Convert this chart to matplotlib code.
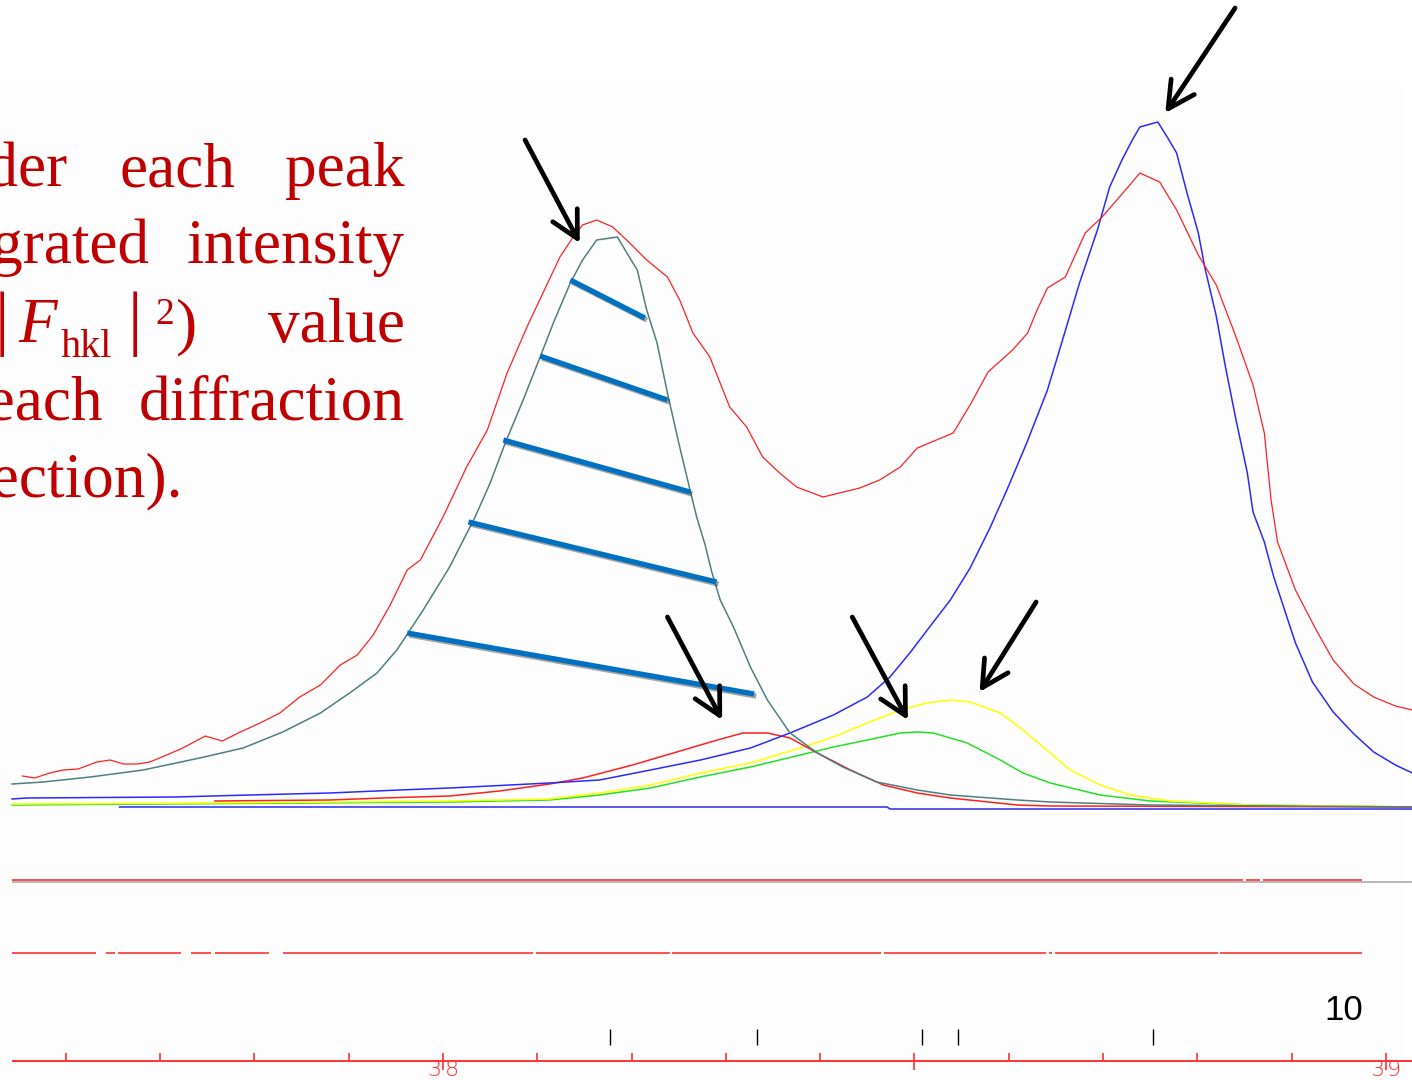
import matplotlib
matplotlib.use('Agg')
import matplotlib.pyplot as plt
import matplotlib.patheffects as pe
import numpy as np

# profile fit: 2theta (deg) vs intensity (arb. units, 0 = background)
obs_x = [37.554, 37.567, 37.583, 37.597, 37.613, 37.633, 37.647, 37.661, 37.676, 37.689,
         37.707, 37.724, 37.748, 37.766, 37.785, 37.806, 37.827, 37.848, 37.870, 37.891,
         37.909, 37.926, 37.944, 37.962, 37.976, 38.000, 38.025, 38.047, 38.068, 38.089,
         38.106, 38.124, 38.138, 38.148, 38.163, 38.180, 38.198, 38.216, 38.238, 38.251,
         38.265, 38.283, 38.304, 38.322, 38.339, 38.357, 38.375, 38.403, 38.442, 38.463,
         38.485, 38.503, 38.541, 38.559, 38.578, 38.604, 38.620, 38.630, 38.641, 38.660,
         38.681, 38.699, 38.721, 38.739, 38.760, 38.778, 38.801, 38.820, 38.841, 38.859,
         38.871, 38.878, 38.885, 38.904, 38.926, 38.944, 38.966, 38.987, 39.010, 39.028]
obs_y = [32, 30, 35, 38, 39, 46, 48, 44, 44, 46,
         53, 60, 72, 67, 76, 85, 95, 111, 123, 143,
         153, 173, 203, 238, 248, 291, 341, 378, 435, 481,
         515, 551, 571, 583, 588, 581, 565, 548, 531, 508,
         475, 451, 401, 381, 351, 335, 321, 311, 320, 328,
         341, 360, 375, 403, 436, 458, 475, 498, 520, 531,
         575, 591, 615, 635, 626, 598, 553, 523, 471, 423,
         375, 309, 266, 218, 178, 148, 124, 111, 102, 98]

# calculated peak 1 (grey)
p1_x = [37.543, 37.576, 37.626, 37.682, 37.742, 37.788, 37.830, 37.870, 37.901, 37.930,
        37.951, 37.963, 37.979, 37.994, 38.007, 38.034, 38.050, 38.066, 38.085, 38.103,
        38.117, 38.135, 38.148, 38.163, 38.185, 38.195, 38.206, 38.216, 38.227, 38.238,
        38.251, 38.262, 38.269, 38.278, 38.285, 38.294, 38.308, 38.326, 38.344, 38.368,
        38.397, 38.424, 38.460, 38.503, 38.538, 38.609, 38.644, 38.750, 39.028]
p1_y = [24, 26, 31, 38, 50, 60, 76, 95, 115, 135,
        158, 175, 198, 221, 241, 291, 325, 365, 408, 451,
        485, 525, 548, 568, 571, 555, 538, 498, 465, 415,
        361, 318, 291, 263, 236, 208, 181, 141, 108, 75,
        55, 41, 26, 18, 13, 8, 6, 3, 1]

# calculated peak 2 (blue)
p2_x = [37.543, 37.559, 37.716, 37.795, 37.880, 37.954, 38.007, 38.113, 38.166, 38.220,
        38.273, 38.326, 38.368, 38.414, 38.450, 38.474, 38.495, 38.516, 38.538, 38.559,
        38.580, 38.598, 38.619, 38.641, 38.657, 38.675, 38.694, 38.707, 38.720, 38.731,
        38.739, 38.758, 38.768, 38.778, 38.789, 38.801, 38.808, 38.820, 38.830, 38.841,
        38.853, 38.859, 38.871, 38.881, 38.904, 38.922, 38.944, 38.966, 38.987, 39.010, 39.028]
p2_y = [9, 10, 11, 13, 15, 18, 20, 25, 28, 38,
        48, 60, 75, 93, 111, 131, 155, 181, 208, 240,
        280, 318, 365, 418, 468, 525, 578, 621, 648, 668,
        681, 686, 671, 655, 615, 575, 540, 492, 440, 388,
        335, 296, 266, 231, 165, 126, 96, 74, 56, 43, 35]

# small peaks: red, yellow, green
p3_x = [37.758, 37.880, 37.936, 38.007, 38.060, 38.113, 38.148, 38.201, 38.255, 38.291,
        38.318, 38.344, 38.368, 38.397, 38.432, 38.467, 38.503, 38.538, 38.609, 38.644, 39.028]
p3_y = [7, 8, 10, 12, 17, 24, 30, 43, 58, 68,
        75, 75, 70, 55, 38, 23, 15, 10, 3, 2, 1]

p4_x = [37.543, 37.758, 38.007, 38.113, 38.166, 38.220, 38.273, 38.326, 38.379, 38.414,
        38.450, 38.485, 38.513, 38.538, 38.559, 38.591, 38.615, 38.644, 38.665, 38.697,
        38.729, 38.771, 38.856, 39.028]
p4_y = [4, 5, 7, 9, 15, 23, 35, 45, 60, 71,
        85, 98, 105, 108, 106, 95, 78, 55, 38, 23,
        13, 7, 3, 1]

p5_x = [37.543, 38.007, 38.113, 38.166, 38.220, 38.273, 38.326, 38.379, 38.414, 38.450,
        38.485, 38.503, 38.520, 38.556, 38.591, 38.615, 38.644, 38.697, 38.750, 38.856, 39.028]
p5_y = [3, 6, 8, 13, 20, 31, 41, 53, 61, 68,
        75, 76, 75, 65, 48, 35, 25, 13, 7, 3, 1]

# background
bg_x = [37.657, 38.471, 38.474, 39.028]
bg_y = [1, 1, -1, -1]

# difference curves (drawn as segments between gaps)
diff1_level = -72
diff1_segs = [(37.543, 38.848), (38.852, 38.866), (38.870, 38.975)]
diff2_level = -145
diff2_segs = [(37.543, 37.632), (37.643, 37.652), (37.655, 37.722), (37.733, 37.754),
              (37.758, 37.815), (37.830, 38.095), (38.099, 38.241), (38.243, 38.464),
              (38.468, 38.639), (38.643, 38.646), (38.649, 38.822), (38.824, 38.975)]

# reflection positions
refl_pos = [38.177, 38.333, 38.508, 38.546, 38.753]

# area hatch lines under peak 1 (start, end)
hatch_lines = [((38.135, 528), (38.214, 490)),
               ((38.103, 452), (38.238, 408)),
               ((38.064, 368), (38.262, 316)),
               ((38.027, 286), (38.290, 226)),
               ((37.962, 175), (38.330, 114))]

# arrows (tail, head)
arrows = [((38.087, 668), (38.145, 565)),
          ((38.840, 800), (38.766, 695)),
          ((38.238, 191), (38.296, 88)),
          ((38.434, 191), (38.493, 88)),
          ((38.629, 206), (38.569, 116))]

W, H = 1412, 1080
fig = plt.figure(figsize=(W / 100, H / 100), dpi=100)
fig.patch.set_facecolor('white')
ax = fig.add_axes([0, 0, 1, 1])
ax.set_xlim(37.5302, 39.0276)
ax.set_ylim(-272, 808)
ax.axis('off')

# background panel of the program window
ax.add_patch(plt.Rectangle((37.5302, -272), 1.488, 993, color='#fdfdfd', zorder=0, lw=0))

ax.plot(bg_x, bg_y, color='#2a2aee', lw=1.1)
ax.plot(p5_x, p5_y, color='#22e022', lw=1.1)
ax.plot(p4_x, p4_y, color='#ffff00', lw=1.1)
ax.plot(p3_x, p3_y, color='#ff2020', lw=1.1)
ax.plot(p2_x, p2_y, color='#2a2aff', lw=1.1)
ax.plot(p1_x, p1_y, color='#4f7f7f', lw=1.1)
ax.plot(obs_x, obs_y, color='#ff2020', lw=0.9)

# difference curves
ax.hlines(diff1_level - 2, 37.543, 39.028, color='#b8b8b8', lw=1.4)
for a, b in diff1_segs:
    ax.hlines(diff1_level, a, b, color='#ff2020', lw=1.1)
for a, b in diff2_segs:
    ax.hlines(diff2_level, a, b, color='#ff2020', lw=1.1)

# reflection markers
ax.vlines(refl_pos, -237, -221, color='black', lw=1.0)
ax.text(38.955, -202, '10', fontsize=25, family='Liberation Sans', ha='center', va='center')

# 2theta axis
ax.hlines(-253, 37.543, 39.028, color='#ff3030', lw=1.4)
ticks = np.round(np.arange(37.6, 39.01, 0.1), 1)
major = [38.0, 38.5, 39.0]
minor = [t for t in ticks if t not in major]
ax.vlines(minor, -253, -245, color='#ff3030', lw=1.2)
ax.vlines(major, -262, -245, color='#ff3030', lw=1.2)
for t, lab in [(38.0, '38'), (39.0, '39')]:
    ax.annotate(lab[0], xy=(t, -252), xytext=(-1.0, 0), textcoords='offset points',
                ha='right', va='top', fontsize=16, color='#ff3030', family='DejaVu Sans',
                fontweight='light')
    ax.annotate(lab[1], xy=(t, -252), xytext=(1.0, 0), textcoords='offset points',
                ha='left', va='top', fontsize=16, color='#ff3030', family='DejaVu Sans',
                fontweight='light')

# hatch lines marking the area under the peak
for (x0, y0), (x1, y1) in hatch_lines:
    ax.plot([x0, x1], [y0, y1], color='#0070C0', lw=3.8, solid_capstyle='butt',
            path_effects=[pe.SimpleLineShadow(offset=(1.5, -1.5), alpha=0.35), pe.Normal()])

for tail, head in arrows:
    ax.annotate('', xy=head, xytext=tail, annotation_clip=False,
                arrowprops=dict(arrowstyle='->,head_length=0.95,head_width=0.5', color='black',
                                lw=3.4, shrinkA=0, shrinkB=0, mutation_scale=20))

# slide text (clipped at the left edge)
red = '#C00000'


def slide_text(px, py, s, ha='left', size=45.5, **kw):
    fig.text(px / W, 1 - py / H, s, ha=ha, va='baseline', fontsize=size, color=red,
             family='Liberation Serif', **kw)


slide_text(67, 186, 'under', ha='right')
slide_text(120, 186, 'each')
slide_text(405, 186, 'peak', ha='right')
slide_text(150, 263, 'integrated', ha='right')
slide_text(405, 263, 'intensity', ha='right')
slide_text(2, 342, '|', ha='center', size=52)
slide_text(18, 342, 'F', style='italic')
slide_text(61, 357, 'hkl', size=29)
slide_text(135, 342, '|', ha='center', size=52)
slide_text(155, 324, '2', size=27)
slide_text(176, 342, ')')
slide_text(405, 342, 'value', ha='right')
slide_text(103, 419, 'of each', ha='right')
slide_text(405, 419, 'diffraction', ha='right')
slide_text(183, 496, '(reflection).', ha='right')

fig.savefig('out.png', dpi=100)
